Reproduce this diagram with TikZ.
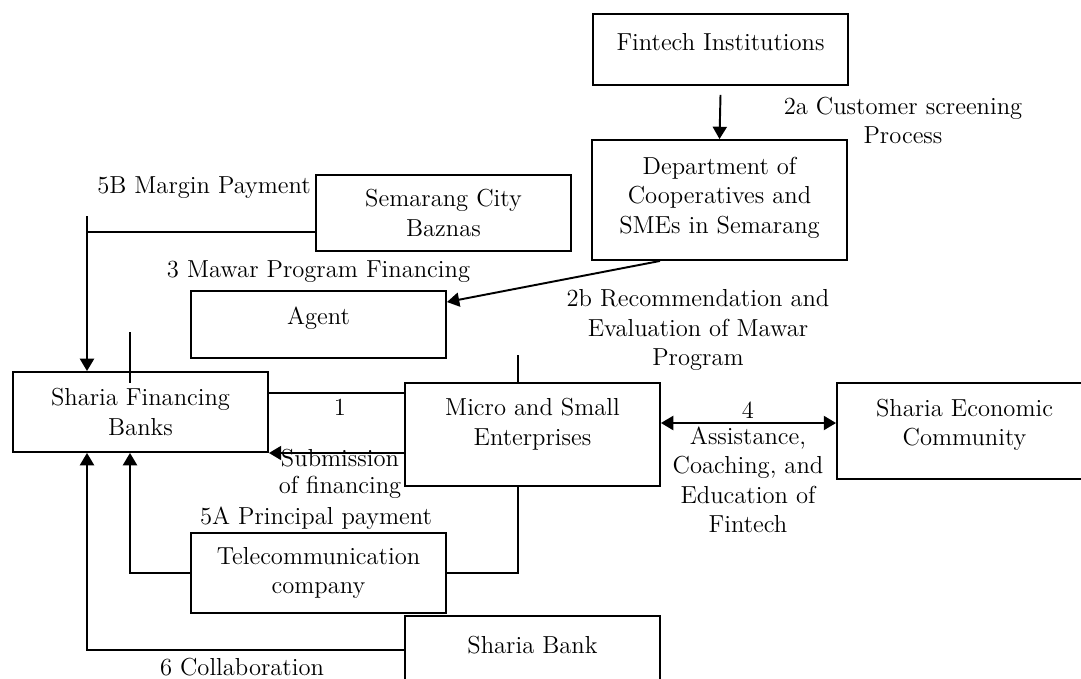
\documentclass[tikz,border=0pt]{standalone}
\usetikzlibrary{arrows.meta}
\begin{document}
\begin{tikzpicture}[x=0.02cm,y=-0.02cm,line width=1.1pt,
	>={Triangle[length=7pt,width=8pt]},
	every node/.style={font=\fontsize{14}{16.8}\selectfont},
	box/.style={draw,align=center,minimum width=5.1cm,inner sep=2pt},
	lbl/.style={align=center,inner sep=0pt}]
	\useasboundingbox (0,0) rectangle (1081,679);
	\clip (0,0) rectangle (1081,679);
	% boxes
	\node[box,minimum height=1.42cm,text depth=0.3cm] (fintech) at (720.5,49.5) {Fintech Institutions};
	\node[box,minimum height=2.4cm,text depth=0.2cm] (dept) at (719.5,200) {Department of\\Cooperatives and\\SMEs in Semarang};
	\node[box,minimum height=1.52cm] (baznas) at (443.5,213) {Semarang City\\Baznas};
	\node[box,minimum height=1.34cm,text depth=0.37cm] (agent) at (318.5,324.5) {Agent};
	\node[box,minimum height=1.6cm] (sfb) at (140.5,412) {Sharia Financing\\Banks};
	\node[box,minimum height=2.06cm,text depth=0.5cm] (mse) at (532.5,434.5) {Micro and Small\\Enterprises};
	\node[box,minimum height=1.92cm,text depth=0.35cm] (sec) at (964.5,431) {Sharia Economic\\Community};
	\node[box,minimum height=1.6cm] (telco) at (318.5,573) {Telecommunication\\company};
	\node[box,minimum height=1.6cm,text depth=0.44cm] (sbank) at (532.5,656) {Sharia Bank};
	% connectors
	\draw[->] ([yshift=-0.18cm]fintech.south) -- (dept.north);
	\draw[->] ([xshift=1.38cm]dept.south west) -- ([yshift=-0.24cm]agent.north east);
	\coordinate (mb) at (87,216);
	\draw[->] (mb) -- (mb |- sfb.north);
	\draw ([yshift=-0.38cm]baznas.west) -- (mb |- 0,232);
	\coordinate (stub) at (130,332);
	\draw (stub) -- ++(0,51);
	\coordinate (l1) at ([yshift=0.83cm]mse.west);
	\draw (l1) -- (l1 -| sfb.east);
	\coordinate (l2) at ([yshift=-0.37cm]mse.west);
	\draw[->] (l2) -- (l2 -| sfb.east);
	\coordinate (l4) at ([yshift=0.23cm]mse.east);
	\draw[<->] (l4) -- (l4 -| sec.west);
	\draw ([xshift=-0.29cm]mse.north) -- ++(0,-27);
	\draw ([xshift=-0.29cm]mse.south) |- (telco.east);
	\draw[->] (telco.west) -| ([xshift=-0.21cm]sfb.south);
	\draw[->] ([yshift=0.12cm]sbank.west) -| (mb |- sfb.south);
	% labels
	\node[lbl] (t2a) at (903,120.5) {2a Customer screening\\Process};
	\node[lbl] (t2b) at (698,330) {2b Recommendation and\\Evaluation of Mawar\\Program};
	\node[lbl] (t5b) at (204,188) {5B Margin Payment};
	\node[lbl] (t3) at (318.5,272) {3 Mawar Program Financing};
	\node[lbl] (t1) at (340,407) {1};
	\node[lbl,font=\fontsize{14}{15.5}\selectfont] (tsub) at (340,474) {Submission\\of financing};
	\node[lbl] (t4) at (748,410) {4};
	\node[lbl] (tass) at (748,480) {Assistance,\\Coaching, and\\Education of\\Fintech};
	\node[lbl] (t5a) at (316,518) {5A Principal payment};
	\node[lbl] (t6) at (242,667) {6 Collaboration};
\end{tikzpicture}
\end{document}
